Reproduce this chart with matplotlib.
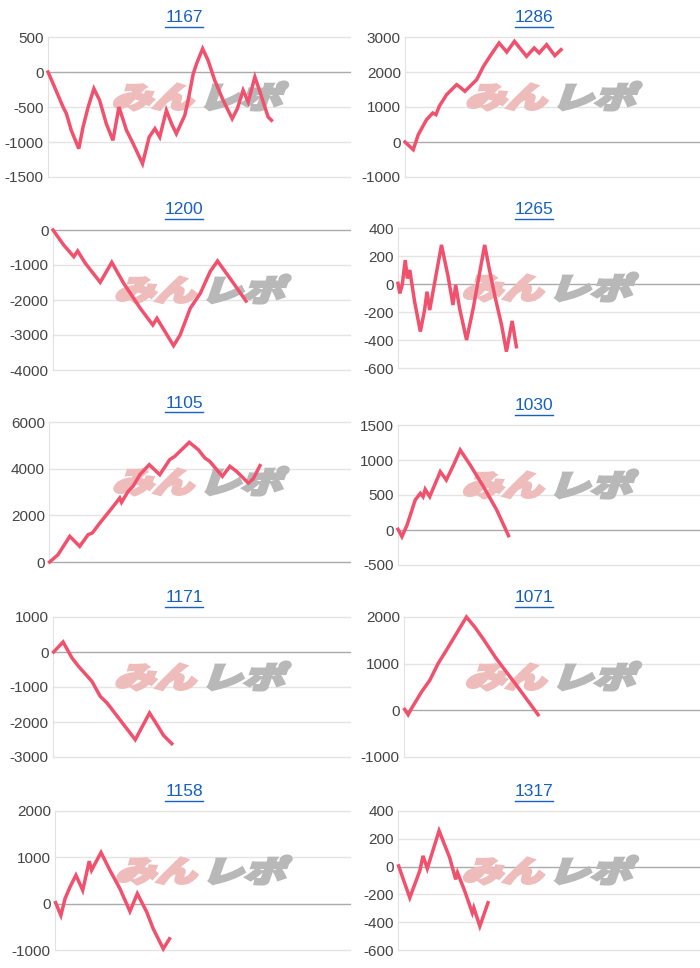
import matplotlib
matplotlib.use("Agg")
import matplotlib.pyplot as plt
from matplotlib.font_manager import FontProperties
from matplotlib.textpath import TextPath
from matplotlib.patches import PathPatch
from matplotlib.path import Path
from matplotlib.lines import Line2D
import numpy as np

plt.rcParams['font.family'] = ['Liberation Sans', 'DejaVu Sans']

# machine numbers (panel titles)
titles = ["1167", "1286", "1200", "1265", "1105", "1030", "1171", "1071", "1158", "1317"]

# x = position along the day (0-100 of the axis), y = difference in medals
x_1167 = [0, 1.7, 5.0, 6.1, 7.7, 10.2, 11.6, 13.3, 15.2, 17.1, 19.3, 21.5, 23.5, 26.0, 28.2, 31.3,
          33.5, 35.4, 37.0, 39.2, 40.9, 42.5, 45.3, 46.4, 48.1, 49.2, 51.2, 53.0, 55.2, 58.0, 61.0,
          62.7, 64.6, 66.3, 68.5, 70.2, 71.8, 72.9, 74.0]
y_1167 = [0, -167, -500, -595, -833, -1095, -786, -500, -238, -405, -738, -976, -500, -833, -1024,
          -1310, -929, -810, -929, -548, -738, -881, -619, -405, -24, 119, 333, 167, -119, -405,
          -667, -524, -262, -429, -71, -286, -500, -643, -690]

x_1286 = [0, 2.8, 4.5, 7.3, 9.4, 10.5, 11.6, 14.1, 17.5, 18.6, 20.3, 24.3, 26.6, 28.8, 31.9, 34.5,
          37.1, 41.2, 43.8, 45.5, 48.0, 50.8, 52.9]
y_1286 = [0, -219, 210, 638, 829, 781, 1019, 1352, 1638, 1571, 1448, 1781, 2162, 2448, 2829, 2571,
          2876, 2448, 2686, 2543, 2781, 2467, 2638]

x_1200 = [0, 3.6, 7.0, 8.3, 10.9, 15.9, 19.8, 23.8, 29.4, 33.6, 35.0, 40.6, 42.8, 46.2, 49.6, 52.9,
          55.4, 59.6, 65.0]
y_1200 = [0, -429, -762, -600, -952, -1495, -924, -1524, -2238, -2714, -2524, -3305, -3000, -2238,
          -1810, -1190, -886, -1381, -2029]

x_1265 = [0, 0.6, 1.4, 2.4, 3.1, 3.9, 5.5, 7.4, 8.8, 9.6, 10.5, 12.2, 14.4, 16.6, 18.2, 19.1, 20.4,
          22.7, 24.9, 26.5, 28.7, 30.4, 32.0, 34.3, 35.9, 37.8, 39.2]
y_1265 = [5, -67, -7, 171, 40, 100, -126, -340, -186, -55, -186, 17, 279, 52, -150, -7, -174, -400,
          -174, 17, 279, 88, -79, -293, -483, -264, -448]

x_1105 = [0.2, 3.0, 6.9, 10.2, 13.0, 14.4, 16.9, 21.8, 23.5, 24.1, 26.3, 27.9, 30.2, 33.3, 36.8,
          40.1, 41.8, 44.3, 46.6, 49.6, 51.8, 53.4, 57.6, 60.1, 62.3, 66.2, 67.8, 70.1]
y_1105 = [0, 314, 1100, 671, 1171, 1243, 1671, 2457, 2743, 2557, 3029, 3243, 3743, 4171, 3743, 4386,
          4529, 4843, 5129, 4814, 4457, 4314, 3671, 4100, 3886, 3386, 3557, 4129]

x_1030 = [0, 1.3, 3.0, 5.7, 7.4, 8.3, 9.0, 10.5, 14.0, 16.0, 18.4, 20.6, 23.9, 28.3, 32.7, 36.6]
y_1030 = [10, -95, 71, 429, 524, 476, 581, 476, 833, 714, 929, 1143, 929, 619, 286, -81]

x_1171 = [0.2, 3.4, 6.4, 8.6, 13.1, 15.9, 18.2, 22.1, 23.8, 27.7, 32.5, 35.0, 37.2, 40.0]
y_1171 = [0, 286, -171, -410, -838, -1267, -1457, -1886, -2076, -2505, -1743, -2076, -2381, -2619]

x_1071 = [0.2, 1.4, 2.5, 5.9, 8.7, 11.5, 14.3, 17.7, 21.1, 23.9, 26.7, 31.2, 38.0, 45.3]
y_1071 = [21, -93, 36, 393, 643, 1000, 1286, 1643, 2000, 1786, 1536, 1107, 536, -93]

x_1158 = [0.2, 2.0, 3.4, 5.1, 7.1, 9.4, 11.6, 12.4, 15.6, 18.6, 22.0, 25.4, 27.9, 31.1, 33.3, 35.0,
          36.7, 38.8]
y_1158 = [22, -253, 108, 361, 614, 289, 917, 722, 1105, 722, 325, -166, 217, -181, -542, -758,
          -975, -758]

x_1317 = [0.2, 3.9, 7.2, 8.3, 9.7, 13.6, 17.1, 19.1, 19.7, 22.1, 24.6, 25.1, 27.1, 29.8]
y_1317 = [5, -224, -31, 77, -14, 258, 65, -92, -43, -176, -333, -296, -429, -260]

xs = [x_1167, x_1286, x_1200, x_1265, x_1105, x_1030, x_1171, x_1071, x_1158, x_1317]
ys = [y_1167, y_1286, y_1200, y_1265, y_1105, y_1030, y_1171, y_1071, y_1158, y_1317]

# y axis ticks (min, max, step)
y_ticks = [(-1500, 500, 500), (-1000, 3000, 1000), (-4000, 0, 1000), (-600, 400, 200),
           (0, 6000, 2000), (-500, 1500, 500), (-3000, 1000, 1000), (-1000, 2000, 1000),
           (-1000, 2000, 1000), (-600, 400, 200)]

W, H = 700, 968
# plot areas in pixels: left, right, top, bottom
boxes = [(48, 350, 37, 177), (405, 700, 37, 177),
         (53, 350, 230, 370), (398, 700, 228, 368),
         (49, 350, 422, 562), (398, 700, 425, 565),
         (53, 350, 617, 757), (404, 700, 617, 757),
         (55, 350, 811, 950), (398, 700, 811, 950)]
title_y = [18, 18, 210, 210, 403, 406, 598, 598, 792, 792]

LINE = '#f2516d'
TITLE = '#1660c0'

fig = plt.figure(figsize=(W / 100, H / 100), dpi=100)

wm_font = FontProperties(family='Noto Sans CJK JP', weight='heavy')


def watermark_patch(text, x0, y0, w, h, color):
    """Text as a slanted, flattened path placed at pixel box (x0, y0 top-left)."""
    tp = TextPath((0, 0), text, size=1, prop=wm_font)
    v = tp.vertices.copy()
    vmin, vmax = v.min(axis=0), v.max(axis=0)
    u = (v - vmin) / (vmax - vmin)
    px = x0 + u[:, 0] * w + (u[:, 1] - 0.5) * h * 0.35
    py = y0 + (1 - u[:, 1]) * h
    verts = np.column_stack([px / 100, (H - py) / 100])
    return PathPatch(Path(verts, tp.codes), facecolor=color, edgecolor=color, lw=2.2,
                     joinstyle='miter', transform=fig.dpi_scale_trans, zorder=2, clip_on=False)


title_texts = []
for i in range(10):
    left, right, top, bottom = boxes[i]
    ax = fig.add_axes([left / W, 1 - bottom / H, (right - left) / W, (bottom - top) / H])
    lo, hi, step = y_ticks[i]
    ticks = np.arange(lo, hi + step, step)
    ax.set_ylim(lo, hi)
    ax.set_xlim(0, 100)
    ax.set_yticks(ticks)
    ax.set_yticklabels([str(t) for t in ticks])
    ax.set_xticks([])
    for s in ['top', 'right', 'bottom']:
        ax.spines[s].set_visible(False)
    ax.spines['left'].set_color('#e2e2e2')
    ax.tick_params(axis='y', length=0, pad=3, labelsize=11, labelcolor='#444444')
    for t in ticks:
        ax.axhline(t, color='#aaaaaa' if t == 0 else '#e4e4e4', lw=1, zorder=1, clip_on=False)

    ax.plot(xs[i], ys[i], color=LINE, lw=2.5, zorder=3, clip_on=False, solid_joinstyle='miter')

    cx = (left + right) / 2
    cy = top + 60
    ax.add_patch(watermark_patch("みん", cx - 84, cy - 13, 80, 26, '#efbcbc'))
    ax.add_patch(watermark_patch("レポ", cx + 3, cy - 15, 82, 28, '#b8b8b8'))

    tx = 184 if i % 2 == 0 else 534
    tt = fig.text(tx / W, 1 - title_y[i] / H, titles[i], color=TITLE, fontsize=12.5,
                  ha='center', va='center')
    title_texts.append(tt)

fig.canvas.draw()
for tt in title_texts:
    bb = tt.get_window_extent()
    yline = bb.y0 - 1.5
    fig.add_artist(Line2D([bb.x0 / (W), bb.x1 / W], [yline / H, yline / H],
                          transform=fig.transFigure, color=TITLE, lw=1))

fig.savefig("out.png", dpi=100)
